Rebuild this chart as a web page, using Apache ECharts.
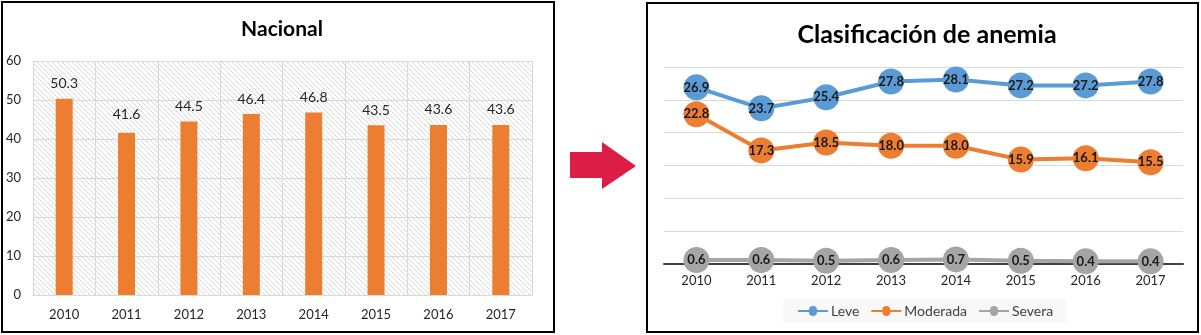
<!DOCTYPE html>
<html><head><meta charset="utf-8">
<script src="https://cdn.jsdelivr.net/npm/echarts@6/dist/echarts.min.js"></script>
<style>html,body{margin:0;padding:0;background:#fff}#c{width:1201px;height:335px}</style>
</head><body><div id="c"></div>
<script>
const years = ['2010','2011','2012','2013','2014','2015','2016','2017'];
const nacional = [50.3, 41.6, 44.5, 46.4, 46.8, 43.5, 43.6, 43.6];
const leve = [26.9, 23.7, 25.4, 27.8, 28.1, 27.2, 27.2, 27.8];
const moderada = [22.8, 17.3, 18.5, 18.0, 18.0, 15.9, 16.1, 15.5];
const severa = [0.6, 0.6, 0.5, 0.6, 0.7, 0.5, 0.4, 0.4];
const leftTicks = [0, 10, 20, 30, 40, 50, 60];

const FONT = 'Lato, "Open Sans", sans-serif';

// hatch pattern
const pc = document.createElement('canvas');
pc.width = 5; pc.height = 5;
const px = pc.getContext('2d');
px.fillStyle = '#ffffff'; px.fillRect(0,0,5,5);
px.strokeStyle = '#d4d4d4'; px.lineWidth = 0.9;
px.beginPath();
px.moveTo(-1,-1); px.lineTo(6,6);
px.moveTo(-1,4); px.lineTo(1,6);
px.moveTo(4,-1); px.lineTo(6,1);
px.stroke();

const chart = echarts.init(document.getElementById('c'), null, {renderer:'canvas'});
const lineSeries = (name, data, color) => ({
  name, type:'line', xAxisIndex:1, yAxisIndex:1, data,
  symbol:'circle', symbolSize:26,
  lineStyle:{color, width:4}, itemStyle:{color},
  label:{show:true, position:'inside', color:'#1a1a1a', fontWeight:'bold', fontSize:13, fontFamily:FONT,
         formatter: p => p.value.toFixed(1)},
  emphasis:{disabled:true}, animation:false
});

const barData = nacional.map((v, i) => i === 1
  ? {value: v, label: {distance: 11}}
  : v);

chart.setOption({
  animation:false,
  title:[
    {text:'Nacional', left:277, top:14, textAlign:'center',
     textStyle:{fontFamily:FONT, fontWeight:'bold', fontSize:21, color:'#000'}},
    {text:'Clasificación de anemia', left:922, top:17, textAlign:'center',
     textStyle:{fontFamily:FONT, fontWeight:'bold', fontSize:25, color:'#000'}}
  ],
  legend:{
    data:['Leve','Moderada','Severa'],
    left:783, top:299,
    padding:[5,13,5,15],
    backgroundColor:'#f8f8f8',
    itemWidth:30, itemHeight:10, itemGap:12,
    icon:'path://M0,4 L11,4 A4,4 0 1 1 19,4 L30,4 L30,6 L19,6 A4,4 0 1 1 11,6 L0,6 Z',
    textStyle:{fontFamily:FONT, fontSize:14, color:'#404040', padding:[0,0,0,-2]}
  },
  grid:[
    {left:33, right:669, top:61, bottom:40, show:true, backgroundColor:{image:pc, repeat:'repeat'}, borderWidth:0},
    {left:664, right:18, top:67, bottom:71}
  ],
  xAxis:[
    {type:'category', gridIndex:0, data:years, boundaryGap:true,
     axisLine:{show:true, lineStyle:{color:'#d9d9d9', width:1}}, axisTick:{show:false},
     splitLine:{show:true, lineStyle:{color:'#d9d9d9', width:1}},
     axisLabel:{fontFamily:FONT, fontSize:13, color:'#262626', margin:13}},
    {type:'category', gridIndex:1, data:years, boundaryGap:true,
     axisLine:{show:true, lineStyle:{color:'#404040', width:2}}, axisTick:{show:false},
     axisLabel:{fontFamily:FONT, fontSize:13, color:'#262626', margin:10}}
  ],
  yAxis:[
    {type:'value', gridIndex:0, min:leftTicks[0], max:leftTicks[leftTicks.length-1], interval:10,
     axisLine:{show:true, lineStyle:{color:'#d9d9d9'}}, axisTick:{show:false},
     splitLine:{show:true, lineStyle:{color:'#d9d9d9', width:1}},
     axisLabel:{fontFamily:FONT, fontSize:13, color:'#262626', margin:12}},
    {type:'value', gridIndex:1, min:0, max:30, interval:5,
     axisLine:{show:false}, axisTick:{show:false}, axisLabel:{show:false},
     splitLine:{show:true, lineStyle:{color:'#d9d9d9', width:1}}}
  ],
  series:[
    {name:'Nacional', type:'bar', xAxisIndex:0, yAxisIndex:0, data:barData, barWidth:17,
     itemStyle:{color:'#ed7d31'},
     label:{show:true, position:'top', distance:8, fontFamily:FONT, fontSize:14, color:'#262626',
            formatter: p => p.value.toFixed(1)}},
    lineSeries('Leve', leve, '#5b9bd5'),
    lineSeries('Moderada', moderada, '#ed7d31'),
    lineSeries('Severa', severa, '#a5a5a5')
  ],
  graphic:[
    {type:'rect', shape:{x:2, y:2, width:552, height:330}, style:{fill:'none', stroke:'#000', lineWidth:2}, silent:true},
    {type:'rect', shape:{x:647, y:3, width:551, height:329}, style:{fill:'none', stroke:'#000', lineWidth:2}, silent:true},
    {type:'polygon', shape:{points:[[570,152],[602,152],[602,142],[636,166],[602,189],[602,178],[570,178]]},
     style:{fill:'#dc1e46'}, silent:true}
  ]
});
</script></body></html>
